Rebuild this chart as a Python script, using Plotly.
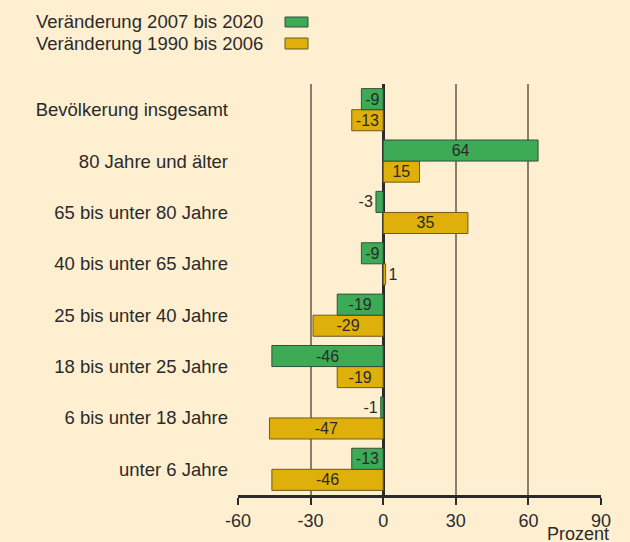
import plotly.graph_objects as go

categories = ["Bevölkerung insgesamt", "80 Jahre und älter", "65 bis unter 80 Jahre",
              "40 bis unter 65 Jahre", "25 bis unter 40 Jahre", "18 bis unter 25 Jahre",
              "6 bis unter 18 Jahre", "unter 6 Jahre"]
change_2007_2020 = [-9, 64, -3, -9, -19, -46, -1, -13]
change_1990_2006 = [-13, 15, 35, 1, -29, -19, -47, -46]
series_names = ["Veränderung 2007 bis 2020", "Veränderung 1990 bis 2006"]
x_ticks = [-60, -30, 0, 30, 60, 90]

GREEN = "#3daa56"
YELLOW = "#dfb00a"
BG = "#feefd1"
TXT = "#2a2a2a"
FONT = "Liberation Sans, Arial, sans-serif"

cats_bottom_first = categories[::-1]


def positions(vals):
    return ["outside" if abs(v) < 5 else "inside" for v in vals]


fig = go.Figure()
for vals, name, col, lc in [(change_1990_2006, series_names[1], YELLOW, "#6e5a1c"),
                            (change_2007_2020, series_names[0], GREEN, "#34503a")]:
    v = vals[::-1]
    fig.add_trace(go.Bar(
        y=cats_bottom_first, x=v, orientation="h", name=name,
        marker=dict(color=col, line=dict(color=lc, width=1)),
        text=[str(a) for a in v], textposition=positions(v),
        insidetextanchor="middle", textangle=0, constraintext="none",
        insidetextfont=dict(color=TXT, size=16, family=FONT),
        outsidetextfont=dict(color=TXT, size=16, family=FONT),
        cliponaxis=False, showlegend=False))

W, H = 630, 542
L, R, T, B = 238, 601, 84, 495

def px(xp):
    return (xp - L) / (R - L)

def py(yp):
    return (B - yp) / (B - T)

shapes = []
annotations = []
legend_rows = [(series_names[0], GREEN, "#34503a", 17, 27, 21),
               (series_names[1], YELLOW, "#6e5a1c", 38, 49, 43)]
for name, col, lc, y0, y1, yc in legend_rows:
    shapes.append(dict(type="rect", xref="paper", yref="paper",
                       x0=px(285), x1=px(308), y0=py(y1), y1=py(y0),
                       fillcolor=col, line=dict(color=lc, width=1)))
    annotations.append(dict(text=name, xref="paper", yref="paper",
                            x=px(34), y=py(yc), xanchor="left", yanchor="middle",
                            showarrow=False, font=dict(size=18.5, color=TXT, family=FONT)))
annotations.append(dict(text="Prozent", xref="paper", yref="paper",
                        x=px(611), y=py(534), xanchor="right", yanchor="middle",
                        showarrow=False, font=dict(size=18, color=TXT, family=FONT)))

fig.update_layout(
    width=W, height=H,
    margin=dict(l=L, r=W - R, t=T, b=H - B, pad=0),
    paper_bgcolor=BG, plot_bgcolor=BG,
    barmode="group", bargap=0.18, bargroupgap=0.0,
    font=dict(family=FONT, size=18, color=TXT),
    shapes=shapes, annotations=annotations,
    xaxis=dict(range=[-60, 90], tickvals=x_ticks, ticktext=[str(v) for v in x_ticks],
               showgrid=True, gridcolor="#8c7d6b", gridwidth=1.5,
               zeroline=True, zerolinecolor="#2b2b2b", zerolinewidth=3,
               showline=True, linecolor="#2b2b2b", linewidth=3,
               ticks="outside", ticklen=7, tickcolor="#2b2b2b", tickwidth=1.5,
               tickfont=dict(size=18, color=TXT, family=FONT), fixedrange=True),
    yaxis=dict(categoryorder="array", categoryarray=cats_bottom_first,
               showgrid=False, showline=False, ticks="", ticklabelstandoff=9,
               tickfont=dict(size=18.5, color=TXT, family=FONT), fixedrange=True),
)

fig.write_html("out.html", config={"displayModeBar": False},
               post_script="document.body.style.margin='0';document.body.style.overflow='hidden';")
